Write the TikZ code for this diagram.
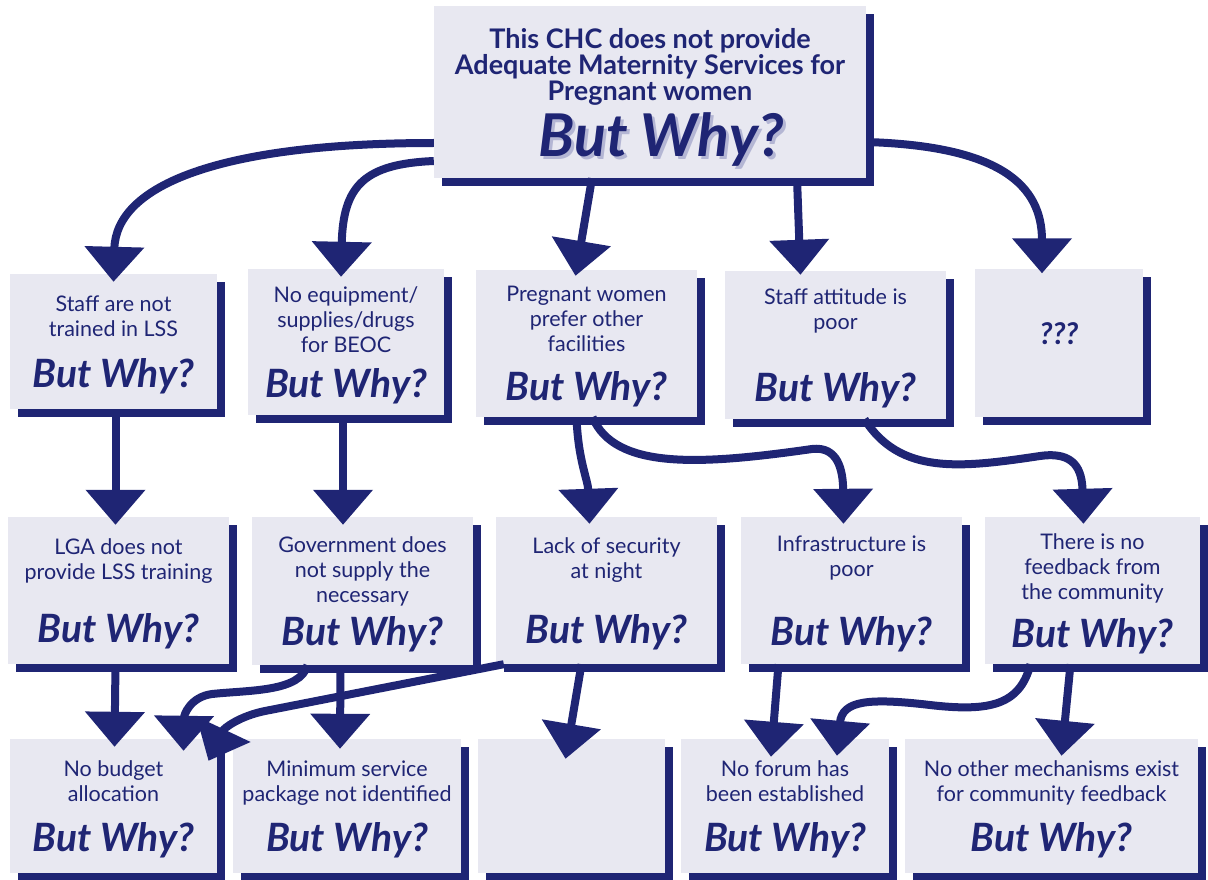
\documentclass[tikz,border=0pt]{standalone}
\usepackage{fontspec}
\setmainfont{Lato}
\usetikzlibrary{arrows.meta, shadows}
\definecolor{navy}{HTML}{1F2574}
\definecolor{boxfill}{HTML}{E8E8F1}
\definecolor{whyshade}{HTML}{B4B6D4}
\newcommand{\whyfont}{\fontsize{39}{40}\selectfont\bfseries\itshape}
\newcommand{\butwhy}{{\whyfont\raisebox{0pt}[0pt][0pt]{But Why?}}}
\newcommand{\bigwhy}{{\fontsize{59}{60}\selectfont\bfseries\itshape\hspace*{22pt}%
  \raisebox{0pt}[0pt][0pt]{\rlap{\color{whyshade}\kern3pt\raisebox{-3pt}{But Why?}}But Why?}}}

\tikzset{
  box/.style={fill=boxfill, text=navy, align=center, inner sep=0pt,
    font=\fontsize{21.5}{25}\selectfont,
    drop shadow={shadow xshift=8pt, shadow yshift=-8pt, fill=navy, opacity=1}},
  link/.style={draw=navy, line width=8pt, -{Triangle[width=58pt,length=35pt]}},
}

\begin{document}
\begin{tikzpicture}[x=1pt,y=-1pt]
\useasboundingbox (0,0) rectangle (1208,880);

% top question
\node[box, minimum width=432pt, minimum height=172pt, font=\fontsize{27}{26}\selectfont\bfseries] (top) at (650,92)
  {This CHC does not provide\\Adequate Maternity Services for\\Pregnant women\\[30pt]\bigwhy};

% first row
\node[box, minimum width=207pt, minimum height=135pt] (a1) at (113.5,341.5) {Staff are not\\trained in LSS\\[25.5pt]\butwhy};
\node[box, minimum width=196pt, minimum height=146pt] (b1) at (346,342) {No equipment/\\supplies/drugs\\for BEOC\\[20.5pt]\butwhy};
\node[box, minimum width=221pt, minimum height=147pt] (c1) at (586.5,343.5) {Pregnant women\\prefer other\\facilities\\[23.5pt]\butwhy};
\node[box, minimum width=221pt, minimum height=148pt] (d1) at (835.5,345) {Staff attitude is\\poor\\[46.5pt]\butwhy};
\node[box, minimum width=168pt, minimum height=148pt, text depth=18pt,
  font=\fontsize{30}{32}\selectfont\bfseries\itshape] (e1) at (1059,342.5) {???};

% second row
\node[box, minimum width=221pt, minimum height=147pt] (f2) at (118.5,590.5) {LGA does not\\provide LSS training\\[37.5pt]\butwhy};
\node[box, minimum width=221pt, minimum height=148pt] (g2) at (362.5,591) {Government does\\not supply the\\necessary\\[18.5pt]\butwhy};
\node[box, minimum width=221pt, minimum height=147pt] (h2) at (606.5,590.5) {Lack of security\\at night\\[40.5pt]\butwhy};
\node[box, minimum width=221pt, minimum height=147pt] (i2) at (851.5,590.5) {Infrastructure is\\poor\\[43.5pt]\butwhy};
\node[box, minimum width=215pt, minimum height=147pt] (j2) at (1092.5,590.5) {There is no\\feedback from\\the community\\[22.5pt]\butwhy};

% third row
\node[box, minimum width=207pt, minimum height=134pt] (k3) at (113.5,806) {No budget\\allocation\\[24.5pt]\butwhy};
\node[box, minimum width=228pt, minimum height=134pt] (l3) at (347,806) {Minimum service\\package not identified\\[24.5pt]\butwhy};
\node[box, minimum width=187pt, minimum height=134pt] (m3) at (571.5,806) {};
\node[box, minimum width=208pt, minimum height=134pt] (n3) at (785,806) {No forum has\\been established\\[24.5pt]\butwhy};
\node[box, minimum width=293pt, minimum height=134pt] (o3) at (1051.5,806) {No other mechanisms exist\\for community feedback\\[24.5pt]\butwhy};

% top to first row
\draw[link] ([shift={(0,51)}]top.west) .. controls (220,143) and (116,185) .. ([shift={(0,8)}]a1.north);
\draw[link] ([shift={(0,69)}]top.west) .. controls (365,164) and (343,185) .. ([shift={(-5,8)}]b1.north);
\draw[link] ([shift={(-58,0)}]top.south) -- ([shift={(-11,6)}]c1.north);
\draw[link] ([shift={(147,0)}]top.south) -- ([shift={(-35,4)}]d1.north);
\draw[link] ([shift={(0,50)}]top.east) .. controls (1000,146) and (1042,185) .. ([shift={(-17,5)}]e1.north);

% first row to second row
\draw[link] ([shift={(2,0)}]a1.south) -- ([shift={(-3,8)}]f2.north);
\draw[link] ([shift={(-3,0)}]b1.south) -- ([shift={(-19.5,8)}]g2.north);
\draw[link] ([shift={(-10,0)}]c1.south) .. controls (578,460) and (588,480) .. ([shift={(-17,7)}]h2.north);
\draw[link] ([shift={(6,0)}]c1.south) .. controls (615,470) and (700,465) .. (812,449)
  .. controls (838,446) and (843,470) .. ([shift={(-8,7)}]i2.north);
\draw[link] ([shift={(29,0)}]d1.south) .. controls (900,475) and (960,468) .. (1040,456)
  .. controls (1075,451) and (1082,470) .. ([shift={(-9,7)}]j2.north);

% second row to third row
\draw[link] ([shift={(-3,0)}]f2.south) -- ([shift={(1,8)}]k3.north);
\draw[link] ([shift={(-55,0)}]g2.south) .. controls (300,692) and (250,690) .. (212,694)
  .. controls (190,697) and (184,715) .. ([shift={(70,12)}]k3.north);
\draw[link] ([shift={(8,0)}]h2.south west) -- (265,711) .. controls (240,716) and (224,728) .. ([shift={(95,22)}]k3.north);
\draw[link] ([shift={(-22,0)}]g2.south) -- ([shift={(-7,10)}]l3.north);
\draw[link] ([shift={(-25,0)}]h2.south) -- ([shift={(-6,20)}]m3.north);
\draw[link] ([shift={(-73,0)}]i2.south) -- ([shift={(-14,18)}]n3.north);
\draw[link] ([shift={(-62,0)}]j2.south) .. controls (1020,705) and (990,712) .. (930,705)
  .. controls (870,698) and (842,700) .. ([shift={(52,17)}]n3.north);
\draw[link] ([shift={(-22,0)}]j2.south) -- ([shift={(10,17)}]o3.north);
\end{tikzpicture}
\end{document}
